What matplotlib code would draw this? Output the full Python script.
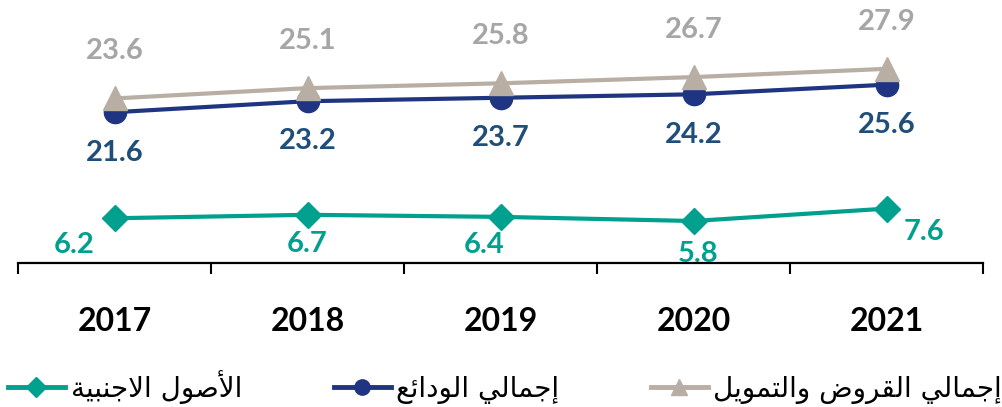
import matplotlib
matplotlib.use('Agg')
import matplotlib.pyplot as plt
from matplotlib.lines import Line2D

years = ['2017', '2018', '2019', '2020', '2021']
loans = [23.6, 25.1, 25.8, 26.7, 27.9]
deposits = [21.6, 23.2, 23.7, 24.2, 25.6]
foreign_assets = [6.2, 6.7, 6.4, 5.8, 7.6]

label_loans = 'إجمالي القروض والتمويل'
label_deposits = 'إجمالي الودائع'
label_foreign = 'الأصول الاجنبية'

# contextual forms (isolated, final[, initial, medial]) for the letters we need
FORMS = {
    'ا': ('\ufe8d', '\ufe8e'), 'أ': ('\ufe83', '\ufe84'), 'إ': ('\ufe87', '\ufe88'),
    'د': ('\ufea9', '\ufeaa'), 'ر': ('\ufead', '\ufeae'), 'و': ('\ufeed', '\ufeee'),
    'ة': ('\ufe93', '\ufe94'),
    'ب': ('\ufe8f', '\ufe90', '\ufe91', '\ufe92'), 'ت': ('\ufe95', '\ufe96', '\ufe97', '\ufe98'),
    'ج': ('\ufe9d', '\ufe9e', '\ufe9f', '\ufea0'), 'ص': ('\ufeb9', '\ufeba', '\ufebb', '\ufebc'),
    'ض': ('\ufebd', '\ufebe', '\ufebf', '\ufec0'), 'ع': ('\ufec9', '\ufeca', '\ufecb', '\ufecc'),
    'ق': ('\ufed5', '\ufed6', '\ufed7', '\ufed8'), 'ل': ('\ufedd', '\ufede', '\ufedf', '\ufee0'),
    'م': ('\ufee1', '\ufee2', '\ufee3', '\ufee4'), 'ن': ('\ufee5', '\ufee6', '\ufee7', '\ufee8'),
    'ي': ('\ufef1', '\ufef2', '\ufef3', '\ufef4'), 'ئ': ('\ufe89', '\ufe8a', '\ufe8b', '\ufe8c'),
}
LAM_ALEF = {'ا': ('\ufefb', '\ufefc'), 'أ': ('\ufef7', '\ufef8'), 'إ': ('\ufef9', '\ufefa')}


def shape(text):
    toks = []
    i = 0
    while i < len(text):
        if text[i] == 'ل' and i + 1 < len(text) and text[i + 1] in LAM_ALEF:
            toks.append(('lig', text[i + 1]))
            i += 2
        else:
            toks.append(('ch', text[i]))
            i += 1

    def joins(t):
        return t is not None and (t[0] == 'lig' or t[1] in FORMS)

    def joins_next(t):
        return t is not None and t[0] == 'ch' and len(FORMS.get(t[1], ())) == 4

    out = []
    for k, t in enumerate(toks):
        prev = toks[k - 1] if k > 0 else None
        nxt = toks[k + 1] if k + 1 < len(toks) else None
        left = joins_next(prev) and joins(t)
        if t[0] == 'lig':
            out.append(LAM_ALEF[t[1]][1 if left else 0])
            continue
        f = FORMS.get(t[1])
        if f is None:
            out.append(t[1])
            continue
        right = len(f) == 4 and joins(nxt)
        if left and right:
            out.append(f[3])
        elif left:
            out.append(f[1])
        elif right:
            out.append(f[2])
        else:
            out.append(f[0])
    return ''.join(reversed(out))


teal = '#00A08E'
navy = '#1F3582'
navy_txt = '#1F4E79'
taupe = '#B8AEA4'
gray_txt = '#A6A6A6'

fig = plt.figure(figsize=(10.02, 4.07), dpi=100)
ax = fig.add_axes([18 / 1002, 144 / 407, 965 / 1002, 263 / 407])

x = list(range(len(years)))
ax.plot(x, foreign_assets, color=teal, lw=3, marker='D', ms=13.5, mec=teal, zorder=3)
ax.plot(x, deposits, color=navy, lw=3, marker='o', ms=16, mec=navy, zorder=3)
ax.plot(x, loans, color=taupe, lw=3, marker='^', ms=17, mec=taupe, zorder=4)

num_font = dict(family='Lato', fontsize=21)
for xi, v in zip(x, loans):
    ax.annotate(f'{v:.1f}', (xi, v), xytext=(0, 34), textcoords='offset points',
                ha='center', va='center', color=gray_txt, fontweight='bold', **num_font)
for xi, v in zip(x, deposits):
    ax.annotate(f'{v:.1f}', (xi, v), xytext=(0, -29), textcoords='offset points',
                ha='center', va='center', color=navy_txt, fontweight='bold', **num_font)
teal_offsets = [(-29, -19), (0, -21), (-12, -20), (3, -24), (27, -17)]
for xi, v, off in zip(x, foreign_assets, teal_offsets):
    ax.annotate(f'{v:.1f}', (xi, v), xytext=off, textcoords='offset points',
                ha='center', va='center', color=teal, fontweight='bold', **num_font)

ax.set_xlim(-0.5, len(years) - 0.5)
ax.set_ylim(-0.3, 37.9)
ax.set_yticks([])
for s in ['top', 'right', 'left']:
    ax.spines[s].set_visible(False)
ax.spines['bottom'].set_linewidth(1.6)
ax.set_xticks(x)
ax.set_xticklabels(years, family='Lato', fontsize=23, fontweight='bold')
ax.set_xticks([i - 0.5 for i in range(len(years) + 1)], minor=True)
ax.tick_params(axis='x', which='major', length=0, pad=32)
ax.tick_params(axis='x', which='minor', length=8, width=1.5, direction='out')

handles = [
    Line2D([], [], color=teal, lw=3.5, marker='D', ms=10, mec=teal),
    Line2D([], [], color=navy, lw=3.5, marker='o', ms=11, mec=navy),
    Line2D([], [], color=taupe, lw=3.5, marker='^', ms=12, mec=taupe),
]
labels = [shape(label_foreign), shape(label_deposits), shape(label_loans)]
fig.legend(handles, labels, loc='center left', bbox_to_anchor=(0.008, 0.05), ncol=3,
           frameon=False, prop=dict(family='DejaVu Sans', size=20), handlelength=2.05,
           handletextpad=0.2, columnspacing=3.3, borderaxespad=0, borderpad=0)

fig.savefig('out.png', dpi=100)
